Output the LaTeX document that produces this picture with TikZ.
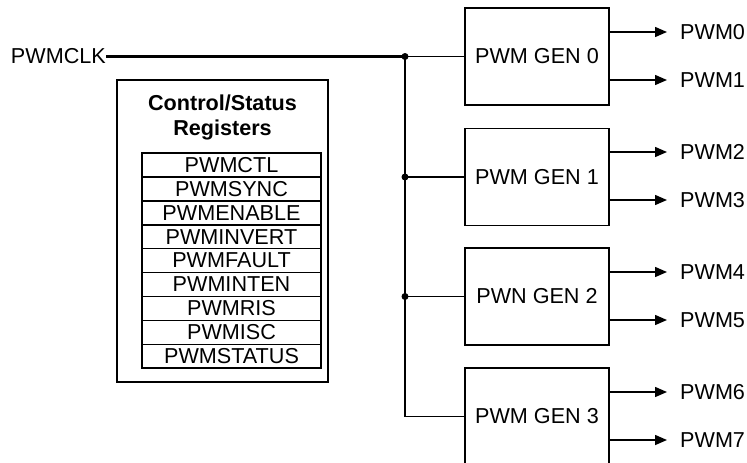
\documentclass[tikz,border=0pt]{standalone}
\usepackage{fontspec}
\setmainfont{Liberation Sans}
\usetikzlibrary{arrows.meta,positioning}
\begin{document}
\begin{tikzpicture}[x=1pt,y=-1pt,
  txt/.style={font=\fontsize{21.6}{24}\selectfont},
  genbox/.style={draw,line width=1.6pt,minimum width=144pt,minimum height=97pt,inner sep=0pt,txt},
  regbox/.style={draw,line width=1.5pt,minimum width=179pt,minimum height=23.9pt,inner sep=0pt,txt},
  wire/.style={line width=1.5pt},
  arr/.style={line width=1.5pt,-{Triangle[length=12pt,width=10pt]}},
  lab/.style={anchor=west,inner sep=0pt,txt},
  dot/.style={circle,fill,inner sep=0pt,minimum size=7pt}
]
\useasboundingbox (0,0) rectangle (747,463);
% generators
\node[genbox] (g0) at (537,56.5) {PWM GEN 0};
\node[genbox] (g1) at (537,177) {PWM GEN 1};
\node[genbox] (g2) at (537,296.5) {PWN GEN 2};
\node[genbox] (g3) at (537,416.5) {PWM GEN 3};
% outputs
\foreach \g/\a/\b in {0/0/1,1/2/3,2/4/5,3/6/7}{
  \node[lab] (p\a) at (680,{56.5+120*\g-24.5}) {PWM\a};
  \node[lab] (p\b) at (680,{56.5+120*\g+23.5}) {PWM\b};
  \draw[arr] (g\g.east |- p\a.west) -- ([xshift=-13pt]p\a.west);
  \draw[arr] (g\g.east |- p\b.west) -- ([xshift=-13pt]p\b.west);
}
% clock
\node[anchor=east,inner sep=0pt,txt] (clk) at (106,56.5) {PWMCLK};
\node[dot] (j0) at (405,56.5) {};
\node[dot] (j1) at (405,177) {};
\node[dot] (j2) at (405,296.5) {};
\draw[line width=2.2pt] (clk.east) -- (j0.center);
\draw[wire] (j0.center) -- (g0.west);
\draw[wire] (j0.center) |- (g3.west);
\draw[wire] (j1.center) -- (g1.west);
\draw[wire] (j2.center) -- (g2.west);
% control/status
\node[draw,line width=1.7pt,minimum width=211pt,minimum height=302pt,inner sep=0pt] (ctrl) at (222.5,231) {};
\node[txt,font=\fontsize{21.6}{25}\selectfont\bfseries,align=center] (title) at (222.5,117.5) {Control/Status\\Registers};
\foreach [count=\i from 0] \r in {PWMCTL,PWMSYNC,PWMENABLE,PWMINVERT,PWMFAULT,PWMINTEN,PWMRIS,PWMISC,PWMSTATUS}{
  \node[regbox] (r\i) at (231.5,{165+23.9*\i}) {\r};
}
\end{tikzpicture}
\end{document}
